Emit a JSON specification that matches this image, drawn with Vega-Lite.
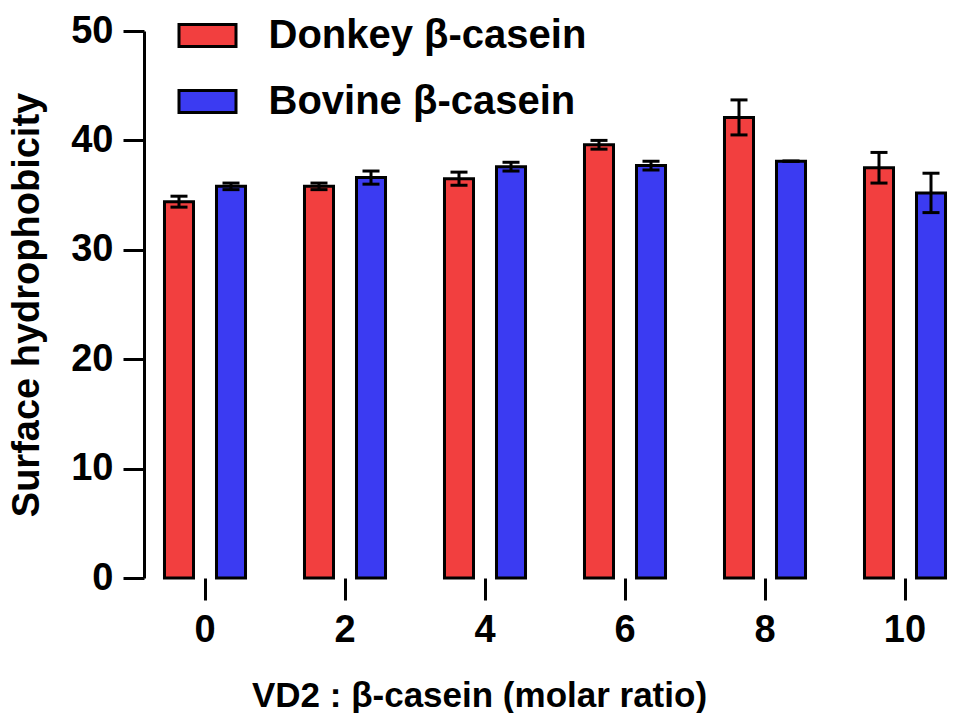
{
  "$schema": "https://vega.github.io/schema/vega-lite/v6.json",
  "width": 806,
  "height": 547,
  "autosize": {"type": "none"},
  "padding": {"left": 144, "top": 31, "right": 5, "bottom": 135},
  "background": "white",
  "config": {
    "view": {"stroke": null},
    "font": "Liberation Sans",
    "axis": {
      "labelFont": "Liberation Sans",
      "labelFontWeight": "bold",
      "labelFontSize": 38,
      "labelColor": "black",
      "titleFont": "Liberation Sans",
      "titleFontWeight": "bold",
      "titleColor": "black",
      "tickColor": "black",
      "tickWidth": 3,
      "domainColor": "black",
      "domainWidth": 3,
      "grid": false
    }
  },
  "data": {
    "values": [
      {"ratio": 0, "casein": "Donkey β-casein", "mean": 34.4, "sd": 0.5},
      {"ratio": 0, "casein": "Bovine β-casein", "mean": 35.8, "sd": 0.3},
      {"ratio": 2, "casein": "Donkey β-casein", "mean": 35.8, "sd": 0.3},
      {"ratio": 2, "casein": "Bovine β-casein", "mean": 36.6, "sd": 0.6},
      {"ratio": 4, "casein": "Donkey β-casein", "mean": 36.5, "sd": 0.6},
      {"ratio": 4, "casein": "Bovine β-casein", "mean": 37.6, "sd": 0.4},
      {"ratio": 6, "casein": "Donkey β-casein", "mean": 39.6, "sd": 0.4},
      {"ratio": 6, "casein": "Bovine β-casein", "mean": 37.7, "sd": 0.4},
      {"ratio": 8, "casein": "Donkey β-casein", "mean": 42.1, "sd": 1.6},
      {"ratio": 8, "casein": "Bovine β-casein", "mean": 38.1, "sd": 0},
      {"ratio": 10, "casein": "Donkey β-casein", "mean": 37.5, "sd": 1.4},
      {"ratio": 10, "casein": "Bovine β-casein", "mean": 35.2, "sd": 1.8}
    ]
  },
  "transform": [
    {"calculate": "datum.mean - datum.sd", "as": "low"},
    {"calculate": "datum.mean + datum.sd", "as": "high"}
  ],
  "encoding": {
    "x": {
      "field": "ratio",
      "type": "ordinal",
      "scale": {"type": "band", "range": [-9, 831], "paddingInner": 0, "paddingOuter": 0},
      "axis": {
        "title": "VD2 : β-casein (molar ratio)",
        "titleFontSize": 35,
        "domain": false,
        "labelAngle": 0,
        "tickSize": 22,
        "labelPadding": 11,
        "titleX": 335,
        "titleY": 128,
        "titleAlign": "center",
        "titleBaseline": "alphabetic"
      }
    },
    "xOffset": {
      "field": "casein",
      "type": "nominal",
      "sort": ["Donkey β-casein", "Bovine β-casein"],
      "scale": {"paddingInner": 0.442, "paddingOuter": 0.567}
    }
  },
  "layer": [
    {
      "mark": {"type": "bar", "stroke": "black", "strokeWidth": 3},
      "encoding": {
        "y": {
          "field": "mean",
          "type": "quantitative",
          "scale": {"domain": [0, 50], "nice": false},
          "axis": {
            "title": "Surface hydrophobicity",
            "titleFontSize": 38,
            "values": [0, 10, 20, 30, 40, 50],
            "tickSize": 21,
            "labelPadding": 10,
            "titlePadding": 24
          }
        },
        "color": {
          "field": "casein",
          "type": "nominal",
          "sort": ["Donkey β-casein", "Bovine β-casein"],
          "scale": {"domain": ["Donkey β-casein", "Bovine β-casein"], "range": ["#F23F3F", "#3B3BF2"]},
          "legend": {
            "title": null,
            "orient": "none",
            "legendX": 33.5,
            "legendY": -25.5,
            "padding": 0,
            "symbolType": "M-1,-0.386H1V0.386H-1Z",
            "symbolSize": 3249,
            "symbolStrokeColor": "black",
            "symbolStrokeWidth": 3,
            "symbolOpacity": 1,
            "labelFont": "Liberation Sans",
            "labelFontWeight": "bold",
            "labelFontSize": 40,
            "labelColor": "black",
            "labelOffset": 31,
            "labelLimit": 0,
            "rowPadding": 16
          }
        }
      }
    },
    {
      "mark": {"type": "rule", "color": "black", "strokeWidth": 3},
      "encoding": {
        "y": {"field": "low", "type": "quantitative"},
        "y2": {"field": "high"}
      }
    },
    {
      "mark": {"type": "tick", "orient": "horizontal", "color": "black", "thickness": 3, "size": 17, "opacity": 1},
      "encoding": {"y": {"field": "high", "type": "quantitative"}}
    },
    {
      "mark": {"type": "tick", "orient": "horizontal", "color": "black", "thickness": 3, "size": 17, "opacity": 1},
      "encoding": {"y": {"field": "low", "type": "quantitative"}}
    },
    {
      "mark": {"type": "rule", "color": "black", "strokeWidth": 3},
      "encoding": {"y": {"datum": 0, "type": "quantitative"}}
    }
  ]
}
